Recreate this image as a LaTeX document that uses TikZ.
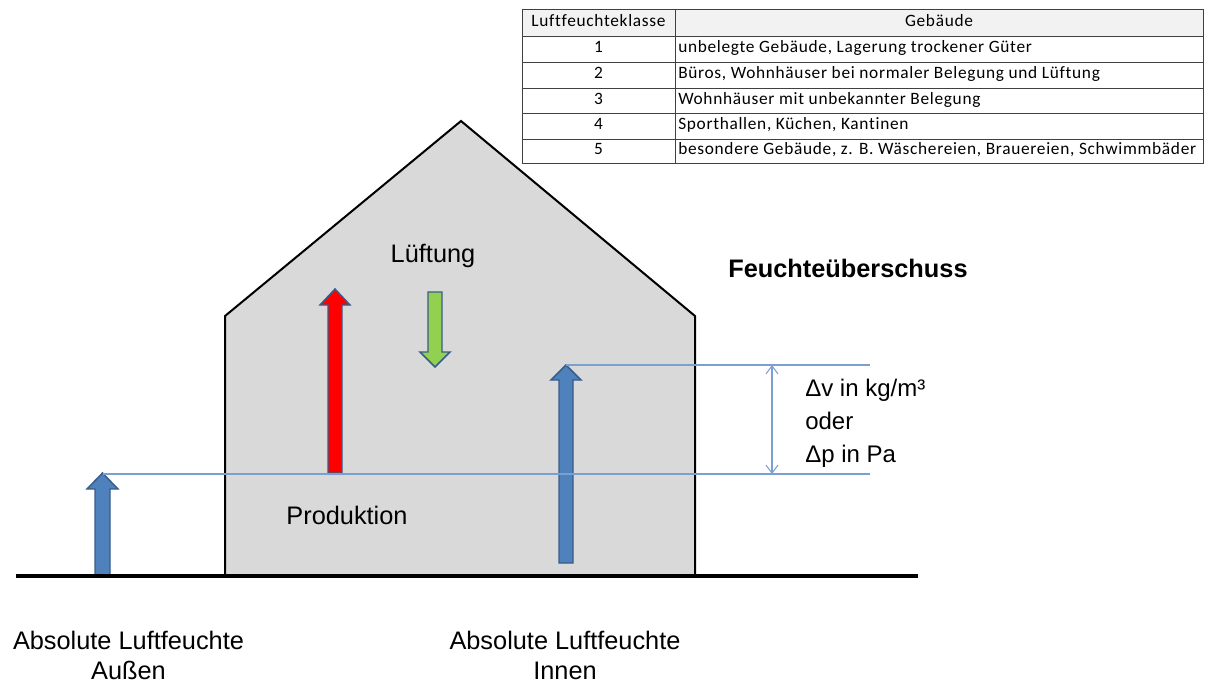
\documentclass[tikz,border=0pt]{standalone}
\usepackage{fontspec}
\setmainfont{Liberation Sans}
\newfontfamily\tabfont{Carlito}[LetterSpace=4, Ligatures=NoCommon]
\usetikzlibrary{arrows.meta}

\definecolor{housegray}{HTML}{D9D9D9}
\definecolor{arrowblue}{HTML}{4F81BD}
\definecolor{arrowedge}{HTML}{385D8A}
\definecolor{lineblue}{HTML}{7A9FD0}
\definecolor{upred}{HTML}{FF0000}
\definecolor{downgreen}{HTML}{92D050}
\definecolor{headgray}{HTML}{F2F2F2}
\definecolor{gridgray}{HTML}{404040}

\begin{document}
\begin{tikzpicture}[x=0.75pt,y=-0.75pt,
  label/.style={font=\fontsize{19}{22.5}\selectfont, inner sep=0pt, align=center, anchor=base},
  blockarrow/.style={draw=arrowedge, line width=1.1pt, line join=miter},
  guide/.style={draw=lineblue, line width=0.8pt},
  grid/.style={draw=gridgray, line width=0.7pt},
  cell/.style={font=\tabfont\fontsize{13}{15}\selectfont, inner sep=0pt, anchor=mid},
  lcell/.style={cell, anchor=mid west}]
\useasboundingbox (0,0) rectangle (1213,683);

% ---------- house ----------
\fill[housegray] (225,576) -- (225,316) -- (461,121) -- (695,316) -- (695,576) -- cycle;
\draw[line width=1.5pt, line join=miter] (225,576) -- (225,316) -- (461,121) -- (695,316) -- (695,576);

% ---------- block arrows ----------
% outside humidity
\filldraw[blockarrow, fill=arrowblue] (95,576) -- (95,489) -- (87,489) -- (102.5,473)
  -- (118,489) -- (110,489) -- (110,576) -- cycle;
% inside humidity
\filldraw[blockarrow, fill=arrowblue] (559,563) -- (559,380) -- (551,380) -- (566,365)
  -- (581,380) -- (573,380) -- (573,563) -- cycle;
% moisture production
\filldraw[blockarrow, fill=upred] (328,473) -- (328,305) -- (320,305) -- (335,289)
  -- (350,305) -- (342,305) -- (342,473) -- cycle;
% ventilation
\filldraw[blockarrow, fill=downgreen] (428,292) -- (428,352) -- (420,352) -- (435,367)
  -- (450,352) -- (442,352) -- (442,292) -- cycle;

% ---------- ground ----------
\draw[line width=3pt] (16,576) -- (918,576);

% ---------- reference lines and dimension ----------
\coordinate (outTip) at (102.5,474);
\coordinate (inTip) at (566,365);
\coordinate (lowEnd) at (870,474);
\coordinate (highEnd) at (870,365);
\coordinate (dimTop) at (772,365);
\coordinate (dimBot) at (772,474);
\draw[guide] (outTip) -- (lowEnd);
\draw[guide] (inTip) -- (highEnd);
\draw[guide, {Straight Barb[length=6pt,width=9pt]}-{Straight Barb[length=6pt,width=9pt]}] (dimTop) -- (dimBot);

% ---------- labels ----------
\node[label] (lueftung) at (433,262) {Lüftung};
\node[label] (produktion) at (347,524) {Produktion};
\node[label, anchor=base west, font=\bfseries\fontsize{19}{22.5}\selectfont] (ueberschuss) at (728,277) {Feuchteüberschuss};
% multi-line nodes: the base anchor sits on the last line
\node[label, anchor=base west, align=left, font=\fontsize{18}{24.4}\selectfont] (delta) at (805,462)
  {Δv in kg/m³\\oder\\Δp in Pa};
\node[label] (aussen) at (128.5,679) {Absolute Luftfeuchte\\Außen};
\node[label] (innen) at (565,679) {Absolute Luftfeuchte\\Innen};

% ---------- classification table ----------
\fill[headgray] (522,9) rectangle (1203,36);
\foreach \y in {36,62,88,113,139}
  \draw[grid] (522,\y) -- (1203,\y);
\draw[grid] (675,9) -- (675,163);
\draw[grid] (522,9) rectangle (1203,163);

\node[cell] (hk) at (598.5,22.5) {Luftfeuchteklasse};
\node[cell] (hg) at (939,22.5) {Gebäude};
\node[cell] (k1) at (598.5,49) {1};
\node[cell] (k2) at (598.5,75) {2};
\node[cell] (k3) at (598.5,100.5) {3};
\node[cell] (k4) at (598.5,126) {4};
\node[cell] (k5) at (598.5,151) {5};
\node[lcell] (g1) at (678,49) {unbelegte Gebäude, Lagerung trockener Güter};
\node[lcell] (g2) at (678,75) {Büros, Wohnhäuser bei normaler Belegung und Lüftung};
\node[lcell] (g3) at (678,100.5) {Wohnhäuser mit unbekannter Belegung};
\node[lcell] (g4) at (678,126) {Sporthallen, Küchen, Kantinen};
\node[lcell] (g5) at (678,151) {besondere Gebäude, z. B. Wäschereien, Brauereien, Schwimmbäder};
\end{tikzpicture}
\end{document}
